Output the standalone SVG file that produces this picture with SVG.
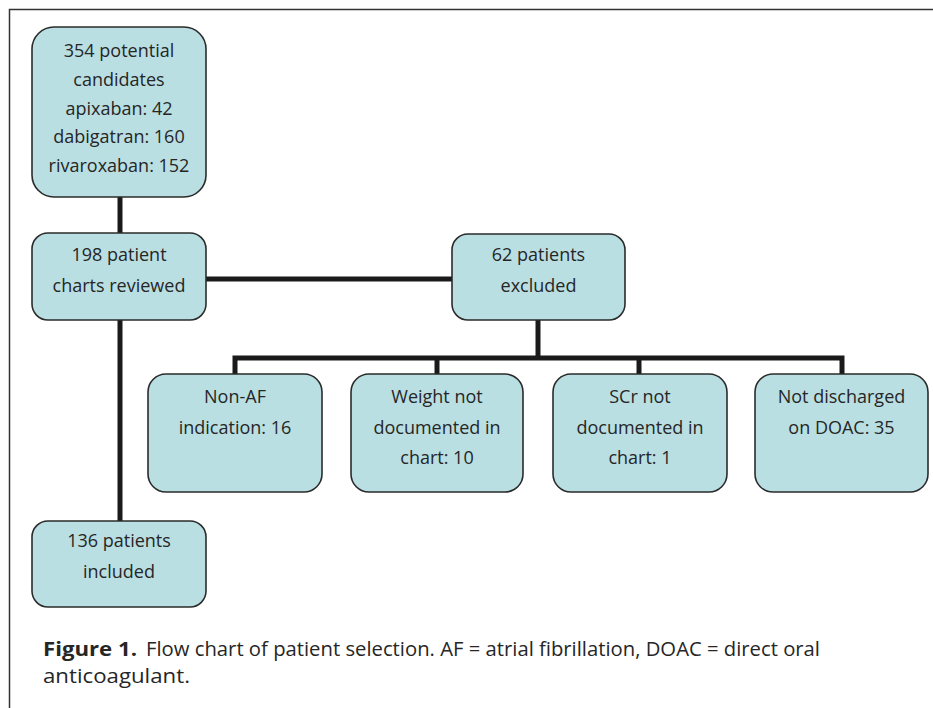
<svg xmlns="http://www.w3.org/2000/svg" width="933" height="708" viewBox="0 0 933 708">
<style>
.box{fill:#b9dfe3;stroke:#2b2b2b;stroke-width:1.6}
.t{font-family:"Open Sans","Noto Sans",sans-serif;font-size:18px;fill:#262626;text-anchor:middle}
.c{stroke:#1a1a1a;stroke-width:5;fill:none}
.cap{font-family:"Open Sans","Noto Sans",sans-serif;font-size:20px;fill:#262626}
</style>
<rect width="933" height="708" fill="#fff"/>
<path d="M9.5 708 V9.5 H933" fill="none" stroke="#333" stroke-width="1.5"/>
<g id="connectors">
<path class="c" d="M120 197 V233"/>
<path class="c" d="M120 320 V521"/>
<path class="c" d="M206 279 H452"/>
<path class="c" d="M538 320 V358"/>
<path class="c" d="M235 374 V358 H842 V374"/>
<path class="c" d="M437 358 V374"/>
<path class="c" d="M639 358 V374"/>
</g>
<g id="n1"><rect class="box" x="32" y="27" width="174" height="170" rx="22"/>
<text class="t" x="119" y="57">354 potential</text>
<text class="t" x="119" y="86">candidates</text>
<text class="t" x="119" y="115">apixaban: 42</text>
<text class="t" x="119" y="143">dabigatran: 160</text>
<text class="t" x="119" y="172">rivaroxaban: 152</text></g>
<g id="n2"><rect class="box" x="32" y="233" width="174" height="87" rx="16"/>
<text class="t" x="119" y="261">198 patient</text>
<text class="t" x="119" y="292">charts reviewed</text></g>
<g id="n3"><rect class="box" x="452" y="234" width="173" height="86" rx="16"/>
<text class="t" x="538.5" y="261">62 patients</text>
<text class="t" x="538.5" y="292">excluded</text></g>
<g id="n4"><rect class="box" x="148" y="374" width="174" height="118" rx="18"/>
<text class="t" x="235" y="403">Non-AF</text>
<text class="t" x="235" y="434">indication: 16</text></g>
<g id="n5"><rect class="box" x="351" y="374" width="172" height="118" rx="18"/>
<text class="t" x="437" y="403">Weight not</text>
<text class="t" x="437" y="434">documented in</text>
<text class="t" x="437" y="464">chart: 10</text></g>
<g id="n6"><rect class="box" x="553" y="374" width="174" height="118" rx="18"/>
<text class="t" x="640" y="403">SCr not</text>
<text class="t" x="640" y="434">documented in</text>
<text class="t" x="640" y="464">chart: 1</text></g>
<g id="n7"><rect class="box" x="755" y="374" width="173" height="118" rx="18"/>
<text class="t" x="841.5" y="403">Not discharged</text>
<text class="t" x="841.5" y="434">on DOAC: 35</text></g>
<g id="n8"><rect class="box" x="32" y="521" width="174" height="86" rx="16"/>
<text class="t" x="119" y="547">136 patients</text>
<text class="t" x="119" y="578">included</text></g>
<text class="cap" x="43" y="656" font-weight="bold" font-size="21" textLength="94" lengthAdjust="spacingAndGlyphs">Figure 1.</text>
<text class="cap" x="146" y="656" textLength="674" lengthAdjust="spacingAndGlyphs">Flow chart of patient selection. AF = atrial fibrillation, DOAC = direct oral</text>
<text class="cap" x="43" y="683" textLength="147" lengthAdjust="spacingAndGlyphs">anticoagulant.</text>
</svg>
